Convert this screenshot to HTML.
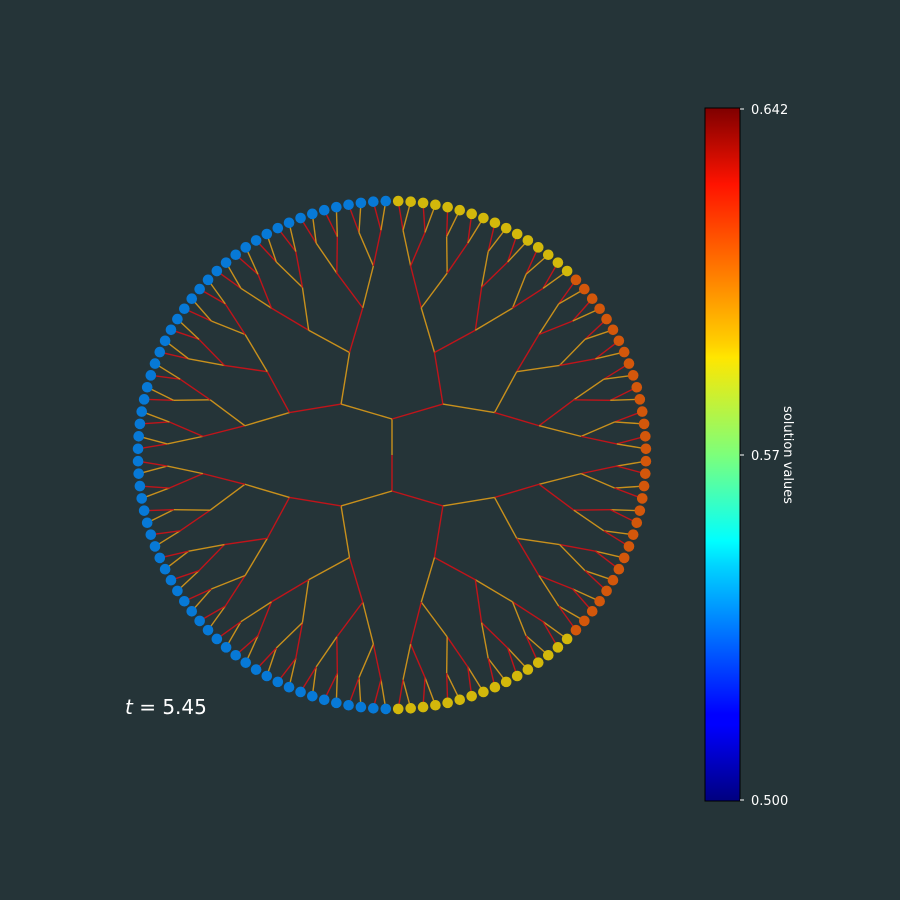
<!DOCTYPE html>
<html><head><meta charset="utf-8"><style>
html,body{margin:0;padding:0;background:#253438;}
svg{display:block;font-family:"DejaVu Sans","Liberation Sans",sans-serif;}
</style></head><body>
<svg id="chart" width="900" height="900" viewBox="0 0 900 900">
<rect width="900" height="900" fill="#253438"/>
<g id="edges"></g>
<g id="nodes"></g>
<defs><linearGradient id="jet" x1="0" y1="1" x2="0" y2="0">
<stop offset="0" stop-color="#00007f"/><stop offset="0.11" stop-color="#0000ff"/><stop offset="0.125" stop-color="#0000ff"/>
<stop offset="0.34" stop-color="#00d4ff"/><stop offset="0.375" stop-color="#0ff"/><stop offset="0.5" stop-color="#7dff7a"/>
<stop offset="0.64" stop-color="#ffe600"/><stop offset="0.66" stop-color="#ffd000"/><stop offset="0.89" stop-color="#ff1300"/><stop offset="1" stop-color="#7f0000"/>
</linearGradient></defs>
<rect x="705" y="108" width="35" height="693" fill="url(#jet)" stroke="#000" stroke-width="1"/>
<g fill="#fff" font-size="13">
<line x1="740" y1="109" x2="744" y2="109" stroke="#fff"/><text x="751" y="114">0.642</text>
<line x1="740" y1="455" x2="744" y2="455" stroke="#fff"/><text x="751" y="460">0.57</text>
<line x1="740" y1="800" x2="744" y2="800" stroke="#fff"/><text x="751" y="805">0.500</text>
</g>
<text transform="translate(784,455) rotate(90)" text-anchor="middle" fill="#fff" font-size="13">solution values</text>
<text x="125" y="714" fill="#fff" font-size="20"><tspan font-style="italic">t</tspan> = 5.45</text>
</svg>
<script>
const vmin = 0.5, vmax = 0.642;
// leaf values, ordered clockwise starting at the left (angle 180°)
const leafValuesLeftTop = Array(32).fill(0.537);
const leafValuesTopRight = Array(16).fill(0.594);
const leafValuesRight = Array(32).fill(0.611);
const leafValuesBottomRight = Array(16).fill(0.594);
const leafValuesLeftBottom = Array(32).fill(0.537);
const leafValues = leafValuesLeftTop.concat(leafValuesTopRight, leafValuesRight, leafValuesBottomRight, leafValuesLeftBottom);
const levelRadii = [36, 72, 111, 150, 190, 225, 254];

const cx = 392, cy = 455;
const N = leafValues.length;
function jet(x){
  const r = Math.min(Math.max(Math.min(4*x-1.5, -4*x+4.5),0),1);
  const g = Math.min(Math.max(Math.min(4*x-0.5, -4*x+3.5),0),1);
  const b = Math.min(Math.max(Math.min(4*x+0.5, -4*x+2.5),0),1);
  return [r*255,g*255,b*255];
}
function color(v){
  const c = jet((v-vmin)/(vmax-vmin)); const bg=[36,52,56]; const a=0.8;
  return 'rgb('+c.map((x,i)=>Math.round(x*a+bg[i]*(1-a))).join(',')+')';
}
function leafAngle(i){ return (180 - (i+0.5)*360/N) * Math.PI/180; }
function pos(r, ang){ return [cx + r*Math.cos(ang), cy - r*Math.sin(ang)]; }
const ns='http://www.w3.org/2000/svg';
const eg=document.getElementById('edges'), ng=document.getElementById('nodes');
const depth = levelRadii.length-1;
function nodeAngle(L,k){
  const span = N/Math.pow(2,L+1);
  let s=0,c=0;
  for(let i=k*span;i<(k+1)*span;i++){s+=Math.sin(leafAngle(i));c+=Math.cos(leafAngle(i));}
  return Math.atan2(s,c);
}
function line(p,q,col,name){
  const l=document.createElementNS(ns,'line');
  l.setAttribute('x1',p[0]);l.setAttribute('y1',p[1]);l.setAttribute('x2',q[0]);l.setAttribute('y2',q[1]);
  l.setAttribute('stroke',col);l.setAttribute('stroke-width','1.4');
  
  
  eg.appendChild(l);
}
const RED='#c0141a', ORG='#c8901c';
const top0=[cx,cy-levelRadii[0]], bot0=[cx,cy+levelRadii[0]];
line(top0,[cx,cy],ORG,'center-edge'); line([cx,cy],bot0,RED,'center-edge');
function npos(L,k){
  if(L===0) return k===0?top0:bot0;
  return pos(levelRadii[L], nodeAngle(L,k));
}
for(let L=1;L<=depth;L++){
  const cnt=2*Math.pow(2,L);
  for(let k=0;k<cnt;k++){
    const p=npos(L-1,Math.floor(k/2)), q=npos(L,k);
    const col = ((k + L + Math.floor(k/(cnt/2))) % 2===0) ? RED : ORG;
    line(p,q,col,'tree-edge');
  }
}
for(let i=0;i<N;i++){
  const p=pos(levelRadii[depth], leafAngle(i));
  const c=document.createElementNS(ns,'circle');
  c.setAttribute('cx',p[0]);c.setAttribute('cy',p[1]);c.setAttribute('r','5.3');
  c.setAttribute('fill',color(leafValues[i]));
  
  
  ng.appendChild(c);
}
</script>
</body></html>
